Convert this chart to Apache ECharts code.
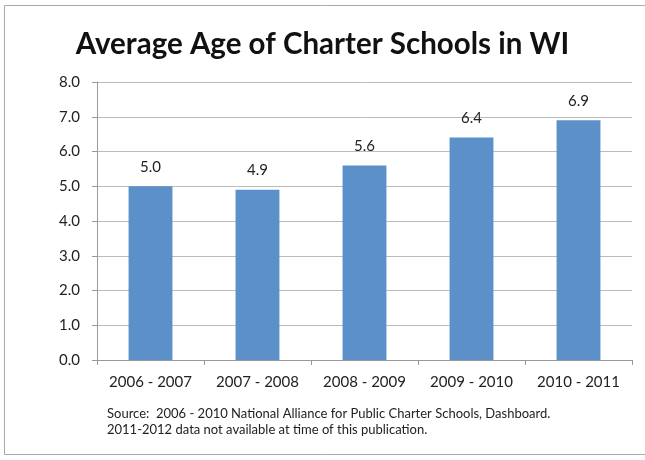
<!DOCTYPE html>
<html>
<head>
    <meta charset="utf-8">
    <title></title>
    <style>
        body{ margin: 0; background: #fff; }
        #chart{ width: 645px; height: 460px; }
    </style>
    <script src="https://cdn.jsdelivr.net/npm/echarts@6/dist/echarts.min.js"></script>
</head>
<body>
<div id="chart"></div>
<script>
    var categories = ['2006 - 2007', '2007 - 2008', '2008 - 2009', '2009 - 2010', '2010 - 2011'];
    var ages = [5.0, 4.9, 5.6, 6.4, 6.9];
    var sourceLines = [
        'Source:  2006 - 2010 National Alliance for Public Charter Schools, Dashboard.',
        '2011-2012 data not available at time of this publication.'
    ];

    var font = 'Lato, "Open Sans", sans-serif';
    var chart = echarts.init(document.getElementById('chart'));
    chart.setOption({
        animation: false,
        title: {
            text: 'Average Age of Charter Schools in WI',
            left: 'center',
            top: 24,
            textStyle: { fontFamily: font, fontSize: 29.5, fontWeight: 'bold', color: '#111' }
        },
        grid: { left: 97, right: 13, top: 82, bottom: 100, containLabel: false },
        xAxis: {
            type: 'category',
            data: categories,
            axisLine: { lineStyle: { color: '#999' } },
            axisTick: { show: true, alignWithLabel: false, length: 5, lineStyle: { color: '#999' } },
            axisLabel: { fontFamily: font, fontSize: 15, color: '#222', margin: 15, interval: 0 }
        },
        yAxis: {
            type: 'value',
            min: 0,
            max: 8,
            interval: 1,
            axisLine: { show: true, lineStyle: { color: '#999' } },
            axisTick: { show: true, length: 5, lineStyle: { color: '#999' } },
            axisLabel: {
                fontFamily: font, fontSize: 15, color: '#222', margin: 17,
                formatter: function (v) { return v.toFixed(1); }
            },
            splitLine: { lineStyle: { color: '#bbb' } }
        },
        series: [{
            type: 'bar',
            data: ages,
            barWidth: '41%',
            itemStyle: { color: '#5b90c9' },
            label: {
                show: true,
                position: 'top',
                distance: 12,
                fontFamily: font,
                fontSize: 15,
                color: '#222',
                formatter: function (p) { return p.value.toFixed(1); }
            }
        }],
        graphic: [
            {
                type: 'rect',
                shape: { x: 4.5, y: 5.5, width: 660, height: 449 },
                style: { fill: 'none', stroke: '#aaa', lineWidth: 1 },
                silent: true
            },
            {
                type: 'text',
                left: 107,
                top: 406,
                style: {
                    text: sourceLines.join('\n'),
                    fontFamily: font,
                    fontSize: 13,
                    lineHeight: 16,
                    fill: '#222'
                }
            }
        ]
    });
</script>
</body>
</html>
